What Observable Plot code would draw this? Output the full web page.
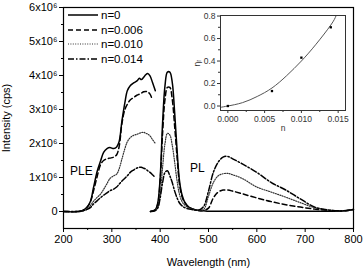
<!DOCTYPE html>
<html><head><meta charset="utf-8">
<script src="https://cdn.jsdelivr.net/npm/d3@7"></script>
<script src="https://cdn.jsdelivr.net/npm/@observablehq/plot@0.6"></script>
<style>
body{margin:0;background:#fff;}
#wrap{position:relative;width:363px;height:268px;font-family:"Liberation Sans",Arial,sans-serif;}
#wrap svg{position:absolute;}
</style>
</head><body><div id="wrap"></div>
<script>
// ---- data ----
const seriesNames = ["n=0", "n=0.006", "n=0.010", "n=0.014"];
const pleWl = [200, 230, 240, 250, 256, 262, 270, 277, 283, 290, 296, 304, 310, 315, 321, 327, 332, 338, 345, 352, 357, 361, 366, 370, 374, 379, 384, 390];
const ple0    = [0, 0, 0.03, 0.15, 0.31, 0.7, 1.2, 1.5, 1.74, 1.85, 1.88, 1.85, 1.9, 2.05, 2.67, 3.2, 3.55, 3.7, 3.78, 3.84, 3.92, 3.88, 3.95, 4.02, 4.06, 3.99, 3.8, 3.55];
const ple006  = [0, 0, 0.03, 0.15, 0.3, 0.6, 1.05, 1.39, 1.5, 1.55, 1.57, 1.6, 1.67, 1.9, 2.6, 3.0, 3.15, 3.28, 3.35, 3.42, 3.45, 3.48, 3.52, 3.53, 3.52, 3.45, 3.28, NaN];
const ple010  = [0, 0, 0.02, 0.08, 0.18, 0.3, 0.42, 0.52, 0.65, 0.82, 0.97, 1.05, 1.1, 1.25, 1.55, 1.85, 2.05, 2.17, 2.24, 2.27, 2.3, 2.32, 2.33, 2.3, 2.28, 2.22, 2.12, 2.0];
const ple014  = [0, 0, 0.02, 0.07, 0.12, 0.22, 0.32, 0.41, 0.48, 0.55, 0.61, 0.66, 0.72, 0.8, 0.9, 0.98, 1.05, 1.15, 1.22, 1.28, 1.3, 1.3, 1.27, 1.25, 1.2, 1.15, 1.08, 1.0];
const plWl = [370, 380, 390, 395, 400, 405, 410, 415, 420, 425, 430, 435, 440, 445, 450, 460, 470, 480, 490, 500, 510, 520, 530, 540, 550, 570, 600, 630, 660, 690, 720, 750, 780, 800];
const pl0   = [NaN, 0, 0.05, 0.25, 1.0, 2.6, 3.7, 4.1, 4.1, 3.8, 2.9, 1.8, 0.9, 0.5, 0.3, 0.12, 0.06, 0.03, 0.02, 0.01, 0.01, 0.01, 0.01, 0.01, 0.01, 0.01, 0.01, 0.01, 0.01, 0.01, 0.01, 0.01, 0.02, 0.06];
const pl006 = [NaN, 0, 0.05, 0.22, 0.9, 2.3, 3.3, 3.65, 3.65, 3.3, 2.5, 1.6, 0.8, 0.45, 0.28, 0.12, 0.06, 0.03, 0.03, 0.1, 0.4, 0.57, 0.63, 0.63, 0.6, 0.52, 0.4, 0.29, 0.2, 0.13, 0.07, 0.03, 0.02, 0.06];
const pl010 = [NaN, 0, 0.03, 0.12, 0.5, 1.3, 2.0, 2.3, 2.25, 1.95, 1.45, 0.9, 0.5, 0.3, 0.2, 0.1, 0.06, 0.04, 0.06, 0.45, 0.85, 1.05, 1.11, 1.12, 1.08, 0.97, 0.72, 0.57, 0.42, 0.26, 0.11, 0.04, 0.02, 0.06];
const pl014 = [NaN, 0, 0.03, 0.1, 0.4, 0.85, 1.15, 1.2, 1.05, 0.85, 0.6, 0.4, 0.25, 0.17, 0.12, 0.07, 0.05, 0.04, 0.15, 0.6, 1.15, 1.45, 1.6, 1.62, 1.55, 1.4, 1.15, 0.85, 0.63, 0.37, 0.13, 0.04, 0.02, 0.06];
const xTicks = [200, 300, 400, 500, 600, 700, 800];
const yTicks = [0, 1e6, 2e6, 3e6, 4e6, 5e6, 6e6];
const annotText = ["PLE", "PL"];
const annotWl = [237, 477];
const annotI = [1.19e6, 1.28e6];
// inset
const insetN = [0.0, 0.006, 0.010, 0.014];
const insetEta = [0.0, 0.133, 0.43, 0.70];
const fitN = [-0.001, 0.0, 0.002, 0.004, 0.006, 0.008, 0.010, 0.012, 0.014, 0.0147];
const fitEta = [-0.012, 0.0, 0.03, 0.085, 0.16, 0.27, 0.40, 0.55, 0.72, 0.80];
const insetXTicks = [0.000, 0.005, 0.010, 0.015];
const insetYTicks = [0.0, 0.2, 0.4, 0.6, 0.8];

// ---- styles ----
const dash = ["none", "5,3", "1,1.4", "6,2,1.5,2"];
const widths = [1.5, 1.5, 1.2, 1.5];
const strokes = ["black", "black", "#333", "black"];

const pleSets = [ple0, ple006, ple010, ple014];
const plSets = [pl0, pl006, pl010, pl014];
const rows = [];
seriesNames.forEach((s, k) => {
  pleWl.forEach((w, i) => rows.push({s, seg: s + "-ple", wl: w, I: pleSets[k][i] * 1e6}));
  plWl.forEach((w, i) => rows.push({s, seg: s + "-pl", wl: w, I: plSets[k][i] * 1e6}));
});
const annots = annotText.map((t, i) => ({t, wl: annotWl[i], I: annotI[i]}));

const sup = d => d === 0 ? "0" : `${d / 1e6}x10⁶`;
const lineMarks = seriesNames.map((s, k) => Plot.line(rows.filter(r => r.s === s), {
  x: "wl", y: "I", z: "seg", curve: "catmull-rom", stroke: strokes[k],
  strokeWidth: widths[k], strokeDasharray: dash[k]
}));

const main = Plot.plot({
  width: 363, height: 268,
  marginLeft: 63, marginRight: 10, marginTop: 7, marginBottom: 40,
  style: {fontFamily: "'Liberation Sans', Arial, sans-serif", fontSize: "11px", background: "transparent", color: "black"},
  x: {domain: [200, 800]},
  y: {domain: [-0.5e6, 6e6]},
  marks: [
    Plot.axisX({ticks: xTicks, tickSize: 4, tickPadding: 3, fontSize: 11, label: "Wavelength (nm)", labelAnchor: "center", labelArrow: "none", labelOffset: 37}),
    Plot.axisX({ticks: d3.range(250, 800, 100), tickSize: 2, tickFormat: () => "", label: null}),
    Plot.axisY({ticks: yTicks, tickSize: 4, tickPadding: 2, fontSize: 11, tickFormat: sup, label: "Intensity (cps)", labelAnchor: "center", labelArrow: "none", labelOffset: 61}),
    Plot.axisY({ticks: d3.range(0.5e6, 6e6, 1e6), tickSize: 2, tickFormat: () => "", label: null}),
    ...lineMarks,
    Plot.text(annots, {x: "wl", y: "I", text: "t", fontSize: 12}),
    Plot.frame({stroke: "black", strokeWidth: 1.2})
  ]
});
document.getElementById("wrap").appendChild(main);
main.style.left = "0px"; main.style.top = "0px";

const inset = Plot.plot({
  width: 165, height: 124,
  marginLeft: 32, marginRight: 8, marginTop: 7, marginBottom: 22,
  style: {fontFamily: "'Liberation Sans', Arial, sans-serif", fontSize: "8.5px", background: "transparent", color: "#333"},
  x: {domain: [-0.001, 0.016]},
  y: {domain: [-0.04, 0.805]},
  marks: [
    Plot.frame({fill: "white", stroke: "none"}),
    Plot.axisX({ticks: insetXTicks, tickSize: 3, tickPadding: 2, tickFormat: d3.format(".3f"), label: "n", labelAnchor: "center", labelArrow: "none", labelOffset: 20}),
    Plot.axisX({ticks: [0.0025, 0.0075, 0.0125], tickSize: 2, tickFormat: () => "", label: null}),
    Plot.axisY({ticks: insetYTicks, tickSize: 3, tickPadding: 2, tickFormat: d3.format(".1f"), label: "ηᵣ", labelAnchor: "center", labelArrow: "none", labelOffset: 27}),
    Plot.axisY({ticks: [0.1, 0.3, 0.5, 0.7], tickSize: 2, tickFormat: () => "", label: null}),
    Plot.line(fitN.map((n, i) => ({n, e: fitEta[i]})), {x: "n", y: "e", curve: "natural", stroke: "#555", strokeWidth: 1}),
    Plot.dot(insetN.map((n, i) => ({n, e: insetEta[i]})), {x: "n", y: "e", r: 1.3, fill: "black", symbol: "square"}),
    Plot.frame({stroke: "#333", strokeWidth: 1})
  ]
});
document.getElementById("wrap").appendChild(inset);
inset.style.left = "188px"; inset.style.top = "8px";

// legend
const leg = d3.select("#wrap").append("svg").attr("width", 363).attr("height", 268)
  .style("left", "0px").style("top", "0px").style("pointer-events", "none");
const legY = [15, 30, 44, 59];
seriesNames.forEach((s, k) => {
  leg.append("line").attr("x1", 68).attr("x2", 98).attr("y1", legY[k]).attr("y2", legY[k])
    .attr("stroke", strokes[k]).attr("stroke-width", widths[k]).attr("stroke-dasharray", dash[k]);
  leg.append("text").attr("x", 101).attr("y", legY[k]).attr("dy", "0.35em")
    .attr("font-family", "'Liberation Sans', Arial, sans-serif").attr("font-size", 11.5).text(s);
});
</script></body></html>
